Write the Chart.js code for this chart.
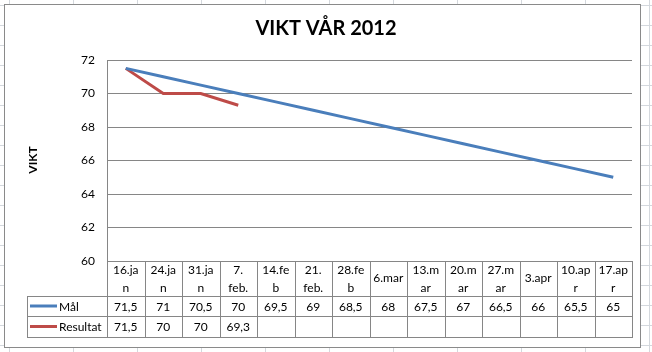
<!DOCTYPE html>
<html>
<head>
<meta charset="utf-8">
<script src="https://cdn.jsdelivr.net/npm/chart.js@4"></script>
<style>
  html, body { margin: 0; padding: 0; background: #fff; }
  #wrap { width: 652px; height: 352px; }
</style>
</head>
<body>
<div id="wrap"><canvas id="vikt"></canvas></div>
<script>
// Data
const categories = [['16.ja','n'], ['24.ja','n'], ['31.ja','n'], ['7.','feb.'], ['14.fe','b'], ['21.','feb.'], ['28.fe','b'],
                    ['6.mar'], ['13.m','ar'], ['20.m','ar'], ['27.m','ar'], ['3.apr'], ['10.ap','r'], ['17.ap','r']];
const mal = [71.5, 71, 70.5, 70, 69.5, 69, 68.5, 68, 67.5, 67, 66.5, 66, 65.5, 65];
const resultat = [71.5, 70, 70, 69.3, null, null, null, null, null, null, null, null, null, null];
const yTicks = [60, 62, 64, 66, 68, 70, 72];
const seriesNames = ['Mål', 'Resultat'];
const seriesColors = ['#4a7ebb', '#be4b48'];

const FONT = 'Lato, "Open Sans", sans-serif';
const LINE = '#868686';

function fmt(v) {
    if (v === null || v === undefined) return '';
    return String(v).replace('.', ',');
}

// background: sheet cells + chart box
const sheetPlugin = {
    id: 'sheet',
    beforeDraw(chart) {
        const ctx = chart.ctx;
        ctx.save();
        ctx.fillStyle = '#fff';
        ctx.fillRect(0, 0, chart.width, chart.height);
        ctx.strokeStyle = '#d4d8dd';
        ctx.lineWidth = 1;
        ctx.beginPath();
        for (let x = 9; x < chart.width; x += 64) { ctx.moveTo(x + 0.5, 0); ctx.lineTo(x + 0.5, chart.height); }
        for (let y = 5; y < chart.height; y += 20) { ctx.moveTo(0, y + 0.5); ctx.lineTo(chart.width, y + 0.5); }
        ctx.stroke();
        ctx.fillStyle = '#fff';
        ctx.fillRect(4, 4, 636, 343);
        ctx.strokeStyle = '#8a8a8a';
        ctx.strokeRect(4.5, 4.5, 636, 343);

        // title
        ctx.fillStyle = '#000';
        ctx.font = 'bold 20px ' + FONT;
        ctx.textAlign = 'center';
        ctx.textBaseline = 'middle';
        ctx.fillText('VIKT VÅR 2012', 326, 29);

        // axis title
        ctx.font = 'bold 12px ' + FONT;
        ctx.translate(33, 160);
        ctx.rotate(-Math.PI / 2);
        ctx.fillText('VIKT', 0, 0);
        ctx.restore();
    }
};

// data table under the plot
const tablePlugin = {
    id: 'datatable',
    afterDraw(chart) {
        const ctx = chart.ctx;
        const area = chart.chartArea;
        const xs = chart.scales.x;
        const n = categories.length;
        const colW = (area.right - area.left) / n;
        const top = area.bottom;
        const rowCat = top + 35;
        const row1 = rowCat + 20;
        const row2 = row1 + 21;
        const legendLeft = 27;

        ctx.save();
        ctx.strokeStyle = LINE;
        ctx.lineWidth = 1;
        ctx.beginPath();
        // verticals
        for (let i = 0; i <= n; i++) {
            const x = Math.round(area.left + i * colW) + 0.5;
            ctx.moveTo(x, top);
            ctx.lineTo(x, row2);
        }
        ctx.moveTo(legendLeft + 0.5, rowCat);
        ctx.lineTo(legendLeft + 0.5, row2);
        // horizontals
        [rowCat, row1, row2].forEach(y => {
            ctx.moveTo(legendLeft, y + 0.5);
            ctx.lineTo(Math.round(area.right) + 1, y + 0.5);
        });
        ctx.stroke();

        ctx.fillStyle = '#000';
        ctx.font = '12px ' + FONT;
        ctx.textAlign = 'center';
        ctx.textBaseline = 'middle';
        categories.forEach((lines, i) => {
            const cx = xs.getPixelForValue(i);
            if (lines.length === 1) {
                ctx.fillText(lines[0], cx, (top + rowCat) / 2);
            } else {
                ctx.fillText(lines[0], cx, top + 9);
                ctx.fillText(lines[1], cx, top + 27);
            }
            ctx.fillText(fmt(mal[i]), cx, (rowCat + row1) / 2 + 1);
            ctx.fillText(fmt(resultat[i]), cx, (row1 + row2) / 2 + 1);
        });

        // legend keys
        [[rowCat, row1], [row1, row2]].forEach((r, k) => {
            const cy = (r[0] + r[1]) / 2;
            ctx.strokeStyle = seriesColors[k];
            ctx.lineWidth = 3;
            ctx.beginPath();
            ctx.moveTo(30, cy);
            ctx.lineTo(57, cy);
            ctx.stroke();
            ctx.textAlign = 'left';
            ctx.fillText(seriesNames[k], 59, cy + 1);
        });
        ctx.restore();
    }
};

new Chart(document.getElementById('vikt'), {
    type: 'line',
    data: {
        labels: categories,
        datasets: [
            { label: seriesNames[0], data: mal, borderColor: seriesColors[0], borderWidth: 3, pointRadius: 0, tension: 0 },
            { label: seriesNames[1], data: resultat, borderColor: seriesColors[1], borderWidth: 3, pointRadius: 0, tension: 0 }
        ]
    },
    options: {
        responsive: true,
        maintainAspectRatio: false,
        animation: false,
        layout: { padding: { left: 0, top: 60, right: 20, bottom: 91 } },
        plugins: { legend: { display: false }, tooltip: { enabled: false } },
        scales: {
            x: { type: 'category', offset: true, display: false },
            y: {
                min: 60, max: 72,
                afterFit(scale) { scale.width = 107; },
                afterBuildTicks(scale) { scale.ticks = yTicks.map(v => ({ value: v })); },
                grid: { color: LINE, drawTicks: false },
                border: { display: true, color: LINE },
                ticks: { color: '#000', padding: 12, font: { family: FONT, size: 12 } }
            }
        }
    },
    plugins: [sheetPlugin, tablePlugin]
});
</script>
</body>
</html>
